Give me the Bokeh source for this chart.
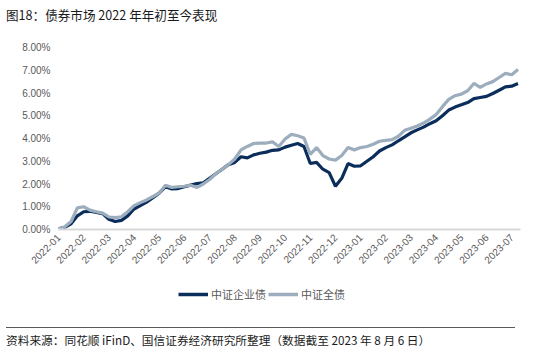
import math
from bokeh.plotting import figure
from bokeh.models import (Range1d, FixedTicker, Legend, LegendItem, Div,
                          ColumnDataSource)
from bokeh.layouts import column
from bokeh.embed import file_html
from bokeh.resources import INLINE

# ---------------- data ----------------
month_labels = ["2022-01", "2022-02", "2022-03", "2022-04", "2022-05", "2022-06",
                "2022-07", "2022-08", "2022-09", "2022-10", "2022-11", "2022-12",
                "2023-01", "2023-02", "2023-03", "2023-04", "2023-05", "2023-06",
                "2023-07"]
step = 0.25  # weekly samples, in month units of the axis

corp_bond = [  # 中证企业债 (%)
    0.03, 0.10, 0.25, 0.60,
    0.78, 0.80, 0.75, 0.70,
    0.45, 0.35, 0.40, 0.60,
    0.90, 1.05, 1.20, 1.40,
    1.60, 1.88, 1.78, 1.80,
    1.88, 1.95, 2.02, 2.05,
    2.25, 2.45, 2.65, 2.85,
    2.95, 3.20, 3.15, 3.28,
    3.35, 3.40, 3.48, 3.50,
    3.62, 3.70, 3.78, 3.65,
    2.90, 2.95, 2.65, 2.50,
    1.90, 2.25, 2.90, 2.78,
    2.80, 3.00, 3.20, 3.45,
    3.60, 3.72, 3.90, 4.07,
    4.25, 4.38, 4.50, 4.65,
    4.78, 5.00, 5.25, 5.38,
    5.48, 5.58, 5.75, 5.80,
    5.85, 5.98, 6.12, 6.27,
    6.30, 6.42,
]
all_bond = [  # 中证全债 (%)
    0.03, 0.12, 0.35, 0.95,
    1.00, 0.85, 0.78, 0.72,
    0.55, 0.52, 0.56, 0.78,
    1.05, 1.18, 1.30, 1.45,
    1.60, 1.95, 1.85, 1.88,
    1.90, 1.95, 1.85, 2.00,
    2.20, 2.45, 2.65, 2.85,
    3.10, 3.50, 3.65, 3.78,
    3.80, 3.80, 3.85, 3.65,
    3.98, 4.18, 4.12, 4.02,
    3.30, 3.60, 3.25, 3.10,
    3.05, 3.25, 3.60, 3.50,
    3.60, 3.65, 3.75, 3.88,
    3.92, 3.95, 4.10, 4.36,
    4.45, 4.55, 4.68, 4.85,
    5.05, 5.40, 5.72, 5.88,
    5.95, 6.10, 6.42, 6.25,
    6.40, 6.50, 6.68, 6.86,
    6.80, 7.03,
]
y_ticks = [0, 1, 2, 3, 4, 5, 6, 7, 8]
series_names = ["中证企业债", "中证全债"]

title_text = "图18：债券市场 2022 年年初至今表现"
source_text = "资料来源：同花顺 iFinD、国信证券经济研究所整理（数据截至 2023 年 8 月 6 日）"

t = [i * step for i in range(len(corp_bond))]
src = ColumnDataSource(dict(t=t, corp=corp_bond, allb=all_bond))

NAVY = "#0b2d5b"
GREY = "#9cadbd"
RULE = "#a6a6a6"
CJK = "Noto Sans CJK SC"
NUM = "Liberation Sans"
W = 550

# ---------------- main chart ----------------
p = figure(width=W, height=244, output_backend="svg", toolbar_location=None,
           x_range=Range1d(0, 18.35), y_range=Range1d(0, 8),
           min_border_left=58, min_border_right=30,
           min_border_top=11, min_border_bottom=51)
p.outline_line_color = None
p.grid.visible = False
p.margin = (0, 0, 0, 0)

p.line("t", "corp", source=src, line_color=NAVY, line_width=3.2)
p.line("t", "allb", source=src, line_color=GREY, line_width=3.2)

xa = p.xaxis[0]
xa.ticker = FixedTicker(ticks=list(range(len(month_labels))))
xa.major_label_overrides = {i: lab for i, lab in enumerate(month_labels)}
xa.major_label_orientation = math.pi / 4
xa.axis_line_color = "#d9d9d9"
xa.axis_line_width = 2
xa.major_tick_line_color = None
xa.minor_tick_line_color = None
xa.major_tick_out = 0
xa.major_label_standoff = 6
xa.major_label_text_font = NUM
xa.major_label_text_font_size = "10px"
xa.major_label_text_color = "#595959"

ya = p.yaxis[0]
ya.ticker = FixedTicker(ticks=y_ticks)
ya.major_label_overrides = {v: "%.2f%%" % v for v in y_ticks}
ya.axis_line_color = None
ya.major_tick_line_color = None
ya.minor_tick_line_color = None
ya.major_tick_out = 0
ya.major_label_standoff = 8
ya.major_label_text_font = NUM
ya.major_label_text_font_size = "10px"
ya.major_label_text_color = "#595959"

# ---------------- title rule (thin grey strip) ----------------
rule = figure(width=509, height=2, output_backend="svg", toolbar_location=None,
              x_axis_type=None, y_axis_type=None,
              x_range=Range1d(0, 1), y_range=Range1d(0, 1),
              min_border=0, min_border_left=0, min_border_right=0,
              min_border_top=0, min_border_bottom=0,
              background_fill_color=RULE, border_fill_color=RULE)
rule.outline_line_color = None
rule.grid.visible = False
rule.margin = (0, 0, 0, 6)

# ---------------- legend strip ----------------
lg = figure(width=W, height=46, output_backend="svg", toolbar_location=None,
            x_axis_type=None, y_axis_type=None,
            x_range=Range1d(0, 1), y_range=Range1d(0, 1),
            min_border=0, min_border_left=0, min_border_right=0,
            min_border_top=0, min_border_bottom=0)
lg.outline_line_color = None
lg.grid.visible = False
lg.margin = (0, 0, 0, 0)
lr1 = lg.line([-2, -1], [-1, -1], line_color=NAVY, line_width=3.5)
lr2 = lg.line([-2, -1], [-1, -1], line_color=GREY, line_width=3.5)
legend = Legend(items=[LegendItem(label=series_names[0], renderers=[lr1]),
                       LegendItem(label=series_names[1], renderers=[lr2])],
                location=(120, 24), orientation="horizontal",
                glyph_width=30, glyph_height=12, label_height=12,
                label_standoff=3, spacing=2, padding=0, margin=0,
                border_line_color=None, background_fill_alpha=0,
                label_text_font=CJK, label_text_font_size="11px",
                label_text_color="#595959")
lg.add_layout(legend)

# ---------------- title / footer ----------------
title_div = Div(width=W, height=34, margin=(0, 0, 0, 0), text=(
    '<div style="margin-left:6px;padding-top:8px;'
    'font-family:\'Noto Sans CJK SC\';font-size:12.6px;line-height:13px;'
    'color:#1a1a1a;white-space:nowrap;">' + title_text + '</div>'))

foot_div = Div(width=W, height=29, margin=(0, 0, 0, 0), text=(
    '<div style="margin-left:6px;width:509px;margin-top:1px;padding-top:6px;'
    'border-top:1px solid #595959;'
    'font-family:\'Noto Sans CJK SC\';font-size:11.7px;line-height:12px;'
    'color:#1a1a1a;white-space:nowrap;">' + source_text + '</div>'))

layout = column(title_div, rule, p, lg, foot_div, spacing=0)

open("out.html", "w").write(file_html(layout, INLINE))
